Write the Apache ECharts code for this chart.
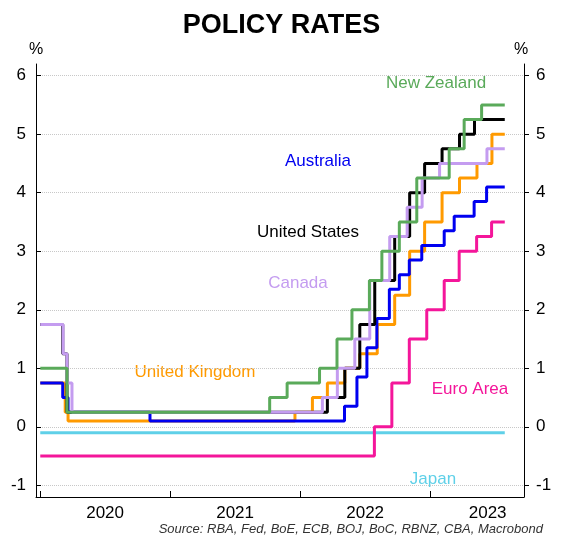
<!DOCTYPE html>
<html><head><meta charset="utf-8">
<script src="https://cdn.jsdelivr.net/npm/echarts@6/dist/echarts.min.js"></script>
<style>html,body{margin:0;padding:0;background:#fff}#c{width:563px;height:547px}</style>
</head><body><div id="c"></div>
<script>
const END = '2023-07-28';
const australia = [['2020-01-01',0.75],['2020-03-04',0.5],['2020-03-19',0.25],['2020-11-04',0.1],['2022-05-04',0.35],['2022-06-08',0.85],['2022-07-06',1.35],['2022-08-03',1.85],['2022-09-07',2.35],['2022-10-05',2.6],['2022-11-02',2.85],['2022-12-07',3.1],['2023-02-08',3.35],['2023-03-08',3.6],['2023-05-03',3.85],['2023-06-07',4.1]];
const unitedStates = [['2020-01-01',1.75],['2020-03-04',1.25],['2020-03-16',0.25],['2022-03-17',0.5],['2022-05-05',1.0],['2022-06-16',1.75],['2022-07-28',2.5],['2022-09-22',3.25],['2022-11-03',4.0],['2022-12-15',4.5],['2023-02-02',4.75],['2023-03-23',5.0],['2023-05-04',5.25]];
const canada = [['2020-01-01',1.75],['2020-03-05',1.25],['2020-03-16',0.75],['2020-03-30',0.25],['2022-03-03',0.5],['2022-04-14',1.0],['2022-06-02',1.5],['2022-07-14',2.5],['2022-09-08',3.25],['2022-10-27',3.75],['2022-12-08',4.25],['2023-01-26',4.5],['2023-06-08',4.75]];
const unitedKingdom = [['2020-01-01',0.75],['2020-03-11',0.25],['2020-03-19',0.1],['2021-12-16',0.25],['2022-02-03',0.5],['2022-03-17',0.75],['2022-05-05',1.0],['2022-06-16',1.25],['2022-08-04',1.75],['2022-09-22',2.25],['2022-11-03',3.0],['2022-12-15',3.5],['2023-02-02',4.0],['2023-03-23',4.25],['2023-05-11',4.5],['2023-06-22',5.0]];
const euroArea = [['2020-01-01',-0.5],['2022-07-27',0.0],['2022-09-14',0.75],['2022-11-02',1.5],['2022-12-21',2.0],['2023-02-08',2.5],['2023-03-22',3.0],['2023-05-10',3.25],['2023-06-21',3.5]];
const japan = [['2020-01-01',-0.1]];
const newZealand = [['2020-01-01',1.0],['2020-03-16',0.25],['2021-10-06',0.5],['2021-11-24',0.75],['2022-02-23',1.0],['2022-04-13',1.5],['2022-05-25',2.0],['2022-07-13',2.5],['2022-08-17',3.0],['2022-10-05',3.5],['2022-11-23',4.25],['2023-02-22',4.75],['2023-04-05',5.25],['2023-05-24',5.5]];
const yTicks = [-1,0,1,2,3,4,5,6];
const yearTicks = ['2020-01-01','2021-01-01','2022-01-01','2023-01-01'];
const yearLabels = [['2020-07-01','2020'],['2021-07-01','2021'],['2022-07-01','2022'],['2023-06-10','2023']];

const t = s => Date.parse(s);
const prep = arr => { const d = arr.map(p => [t(p[0]), p[1]]); d.push([t(END), arr[arr.length-1][1]]); return d; };
const series = [
  ['Japan', japan, '#5fd0e8'],
  ['Euro Area', euroArea, '#f4169a'],
  ['United Kingdom', unitedKingdom, '#ff9a00'],
  ['Australia', australia, '#0000f0'],
  ['United States', unitedStates, '#000000'],
  ['Canada', canada, '#c49cf0'],
  ['New Zealand', newZealand, '#5aaa5a']
].map(s => ({name:s[0], type:'line', step:'end', symbol:'none', data:prep(s[1]), lineStyle:{color:s[2], width:3}, itemStyle:{color:s[2]}}));
const labelMap = {};
yearLabels.forEach(l => labelMap[t(l[0])] = l[1]);
const yAx = pos => ({type:'value', position:pos, min:-1.2, max:6.2,
  axisLine:{show:true, lineStyle:{color:'#000'}},
  axisTick:{show:true, inside:pos==='left', length:5, customValues:yTicks, lineStyle:{color:'#000'}},
  axisLabel:{customValues:yTicks, color:'#000', fontSize:17, fontFamily:'Arial, Liberation Sans', margin:pos==='left'?10:12},
  splitLine:{show:pos==='left', lineStyle:{color:'#c8c8c8', type:'dotted'}}});
const chart = echarts.init(document.getElementById('c'));
chart.setOption({
  animation:false,
  grid:{left:36, right:39, top:64, bottom:50},
  title:{text:'POLICY RATES', left:'center', top:7, textStyle:{fontSize:27, fontWeight:'bold', color:'#000', fontFamily:'Arial, Liberation Sans'}},
  xAxis:{type:'value', min:t('2019-12-20'), max:t('2023-09-20'),
    axisLine:{onZero:false, lineStyle:{color:'#000'}},
    axisTick:{show:true, inside:true, length:6, customValues:yearTicks.map(t), lineStyle:{color:'#000'}},
    axisLabel:{customValues:yearLabels.map(l=>t(l[0])), formatter:v=>labelMap[v]||'', color:'#000', fontSize:17, fontFamily:'Arial, Liberation Sans', margin:8},
    splitLine:{show:false}},
  yAxis:[yAx('left'), yAx('right')],
  series: series,
  graphic:[
    {type:'text', left:29, top:42, style:{text:'%', fill:'#000', font:'16px Arial, Liberation Sans'}},
    {type:'text', left:514, top:42, style:{text:'%', fill:'#000', font:'16px Arial, Liberation Sans'}},
    {type:'text', x:436, y:83, style:{text:'New Zealand', fill:'#5aaa5a', font:'17px Arial, Liberation Sans', align:'center', verticalAlign:'middle'}},
    {type:'text', x:318, y:161, style:{text:'Australia', fill:'#0000f0', font:'17px Arial, Liberation Sans', align:'center', verticalAlign:'middle'}},
    {type:'text', x:308, y:232, style:{text:'United States', fill:'#000', font:'17px Arial, Liberation Sans', align:'center', verticalAlign:'middle'}},
    {type:'text', x:298, y:283, style:{text:'Canada', fill:'#c49cf0', font:'17px Arial, Liberation Sans', align:'center', verticalAlign:'middle'}},
    {type:'text', x:195, y:372, style:{text:'United Kingdom', fill:'#ff9a00', font:'17px Arial, Liberation Sans', align:'center', verticalAlign:'middle'}},
    {type:'text', x:470, y:389, style:{text:'Euro Area', fill:'#f4169a', font:'17px Arial, Liberation Sans', align:'center', verticalAlign:'middle'}},
    {type:'text', x:433, y:479, style:{text:'Japan', fill:'#5fd0e8', font:'17px Arial, Liberation Sans', align:'center', verticalAlign:'middle'}},
    {type:'text', x:543, y:529, style:{text:'Source: RBA, Fed, BoE, ECB, BOJ, BoC, RBNZ, CBA, Macrobond', fill:'#333', font:'italic 13px Arial, Liberation Sans', align:'right', verticalAlign:'middle'}}
  ]
});
</script></body></html>
